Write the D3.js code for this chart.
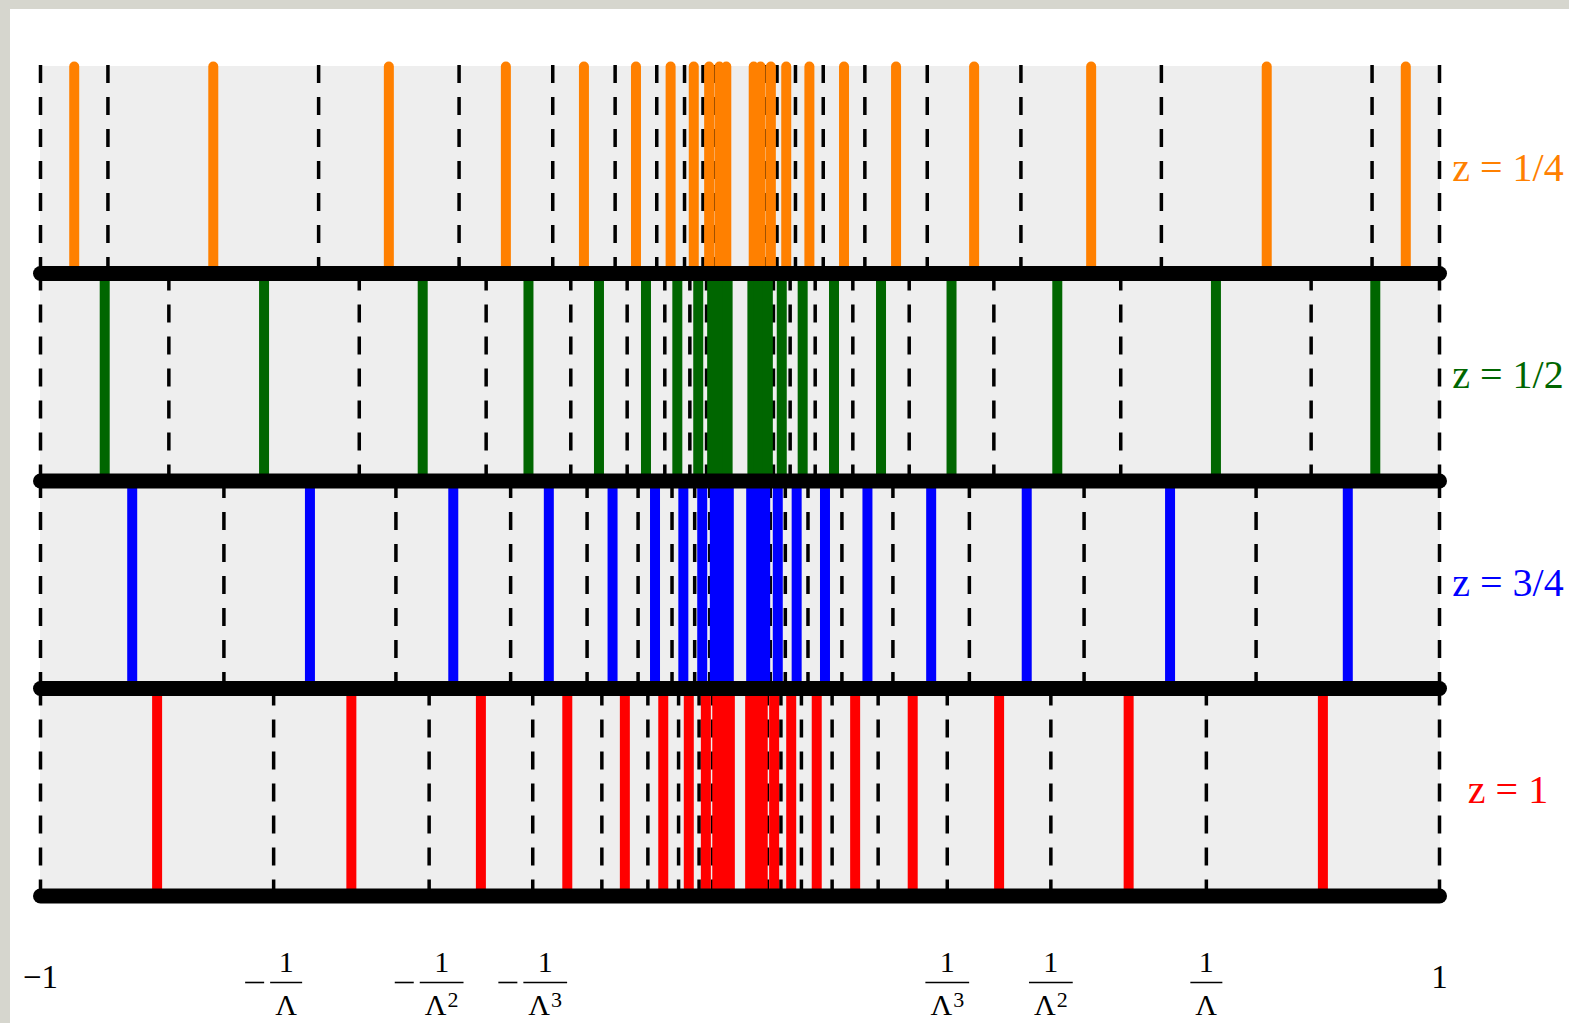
<!DOCTYPE html>
<html>
<head>
<meta charset="utf-8">
<script src="https://cdn.jsdelivr.net/npm/d3@7"></script>
<style>
  html, body { margin: 0; padding: 0; background: #ffffff; }
  svg { display: block; }
</style>
</head>
<body>
<svg id="chart" width="1569" height="1023"></svg>
<script>
// ---------- data ----------
const panelLabels = ["z = 1/4", "z = 1/2", "z = 3/4", "z = 1"];
const panelColors = ["#ff8000", "#006600", "#0000ff", "#ff0000"];

// dashed reference lines, one list per panel
const dashQuarter = [-1, -0.9036, -0.6024, -0.4016, -0.2677, -0.1785, -0.1190, -0.0793, -0.0529, -0.0353, -0.0235, -0.0157,
                     0.0157, 0.0235, 0.0353, 0.0529, 0.0793, 0.1190, 0.1785, 0.2677, 0.4016, 0.6024, 0.9036, 1];
const dashHalf = [-1, -0.8165, -0.5443, -0.3629, -0.2419, -0.1613, -0.1075, -0.0717, -0.0478, -0.0319, -0.0212, -0.0142,
                  0.0142, 0.0212, 0.0319, 0.0478, 0.0717, 0.1075, 0.1613, 0.2419, 0.3629, 0.5443, 0.8165, 1];
const dashThreeQuarter = [-1, -0.7378, -0.4919, -0.3279, -0.2186, -0.1457, -0.0972, -0.0648, -0.0432, -0.0288, -0.0192, -0.0128,
                          0.0128, 0.0192, 0.0288, 0.0432, 0.0648, 0.0972, 0.1457, 0.2186, 0.3279, 0.4919, 0.7378, 1];
const dashOne = [-1, -0.6667, -0.4444, -0.2963, -0.1975, -0.1317, -0.0878, -0.0585, -0.0390, -0.0260, -0.0173, -0.0116,
                 0.0116, 0.0173, 0.0260, 0.0390, 0.0585, 0.0878, 0.1317, 0.1975, 0.2963, 0.4444, 0.6667, 1];

// coloured lines, one list per panel
const linesQuarter = [-0.9518, -0.7530, -0.5020, -0.3347, -0.2231, -0.1487, -0.0992, -0.0661, -0.0441, -0.0294, -0.0196,
                      0.0196, 0.0294, 0.0441, 0.0661, 0.0992, 0.1487, 0.2231, 0.3347, 0.5020, 0.7530, 0.9518];
const linesHalf = [-0.9082, -0.6804, -0.4536, -0.3024, -0.2016, -0.1344, -0.0896, -0.0597, -0.0398, -0.0266, -0.0177,
                   0.0177, 0.0266, 0.0398, 0.0597, 0.0896, 0.1344, 0.2016, 0.3024, 0.4536, 0.6804, 0.9082];
const linesThreeQuarter = [-0.8689, -0.6148, -0.4099, -0.2733, -0.1822, -0.1215, -0.0810, -0.0540, -0.0360, -0.0240, -0.0160,
                           0.0160, 0.0240, 0.0360, 0.0540, 0.0810, 0.1215, 0.1822, 0.2733, 0.4099, 0.6148, 0.8689];
const linesOne = [-0.8333, -0.5556, -0.3704, -0.2469, -0.1646, -0.1097, -0.0732, -0.0488, -0.0325, -0.0217, -0.0145,
                  0.0145, 0.0217, 0.0325, 0.0488, 0.0732, 0.1097, 0.1646, 0.2469, 0.3704, 0.5556, 0.8333];

// bottom tick labels
const tickValues = [-1, -0.6667, -0.4444, -0.2963, 0.2963, 0.4444, 0.6667, 1];
const tickNeg    = [true, true, true, true, false, false, false, false];
const tickPower  = [0, 1, 2, 3, 3, 2, 1, 0];   // 0 = plain number, n = 1/Λ^n

// ---------- layout ----------
const svg = d3.select("#chart");
const W = 1569, H = 1023;

// page frame
svg.append("rect").attr("x", 0).attr("y", 0).attr("width", W).attr("height", H).attr("fill", "#d6d6ce");
svg.append("rect").attr("x", 10).attr("y", 9).attr("width", W - 10).attr("height", H - 9).attr("fill", "#ffffff");

const x = d3.scaleLinear().domain([-1, 1]).range([40.5, 1439.5]);
const y = d3.scaleBand().domain(panelLabels).range([66, 896]).paddingInner(0).paddingOuter(0);

const panels = panelLabels.map((label, i) => ({
  label,
  color: panelColors[i],
  dashes: [dashQuarter, dashHalf, dashThreeQuarter, dashOne][i],
  lines: [linesQuarter, linesHalf, linesThreeQuarter, linesOne][i]
}));

const gPanels = svg.append("g");
panels.forEach(p => {
  const top = y(p.label), bottom = top + y.bandwidth();
  const g = gPanels.append("g");
  g.append("rect")
    .attr("x", x(-1) - 0.5).attr("y", top)
    .attr("width", x(1) - x(-1) + 1).attr("height", y.bandwidth())
    .attr("fill", "#eeeeee");
  g.selectAll("line.dash").data(p.dashes).join("line")
    .attr("class", "dash")
    .attr("x1", d => x(d)).attr("x2", d => x(d))
    .attr("y1", top - 1).attr("y2", bottom)
    .attr("stroke", "#000").attr("stroke-width", 3.5)
    .attr("stroke-dasharray", "18,14");
  g.selectAll("line.mark").data(p.lines).join("line")
    .attr("class", "mark")
    .attr("x1", d => x(d)).attr("x2", d => x(d))
    .attr("y1", top + 0.5).attr("y2", bottom)
    .attr("stroke", p.color).attr("stroke-width", 10).attr("stroke-linecap", "round");
  g.append("text")
    .attr("x", 1508).attr("y", top + y.bandwidth() / 2 + 11)
    .attr("text-anchor", "middle")
    .attr("font-family", "'Liberation Serif', 'DejaVu Serif', serif")
    .attr("font-size", 40)
    .attr("fill", p.color)
    .text(p.label);
});

// thick black baselines
svg.append("g").selectAll("line").data(panelLabels).join("line")
  .attr("x1", x(-1)).attr("x2", x(1))
  .attr("y1", d => y(d) + y.bandwidth()).attr("y2", d => y(d) + y.bandwidth())
  .attr("stroke", "#000").attr("stroke-width", 15).attr("stroke-linecap", "round");

// bottom tick labels
const fontFam = "'Liberation Serif', 'DejaVu Serif', serif";
const gTicks = svg.append("g");
tickValues.forEach((v, i) => {
  const tx = x(v);
  if (tickPower[i] === 0) {
    gTicks.append("text")
      .attr("x", tx).attr("y", 988)
      .attr("text-anchor", "middle")
      .attr("font-family", fontFam).attr("font-size", 33)
      .attr("fill", "#000")
      .text(tickNeg[i] ? "\u22121" : "1");
    return;
  }
  const g = gTicks.append("g");
  const den = g.append("text")
    .attr("y", 1015)
    .attr("font-family", fontFam).attr("font-size", 30).attr("fill", "#000");
  den.append("tspan").text("\u039B");
  if (tickPower[i] > 1) {
    den.append("tspan").attr("font-size", 22).attr("dy", -8).attr("dx", 1).text(String(tickPower[i]));
  }
  const dw = den.node().getBBox().width;
  const bw = dw + 10;
  const minusW = 19, gap = 6;
  const total = (tickNeg[i] ? minusW + gap : 0) + bw;
  const left = tx - total / 2;
  const barLeft = left + (tickNeg[i] ? minusW + gap : 0);
  den.attr("x", barLeft + 5);
  g.append("line")
    .attr("x1", barLeft).attr("x2", barLeft + bw)
    .attr("y1", 982.5).attr("y2", 982.5)
    .attr("stroke", "#000").attr("stroke-width", 1.4);
  g.append("text")
    .attr("x", barLeft + bw / 2).attr("y", 972)
    .attr("text-anchor", "middle")
    .attr("font-family", fontFam).attr("font-size", 30).attr("fill", "#000")
    .text("1");
  if (tickNeg[i]) {
    g.append("line")
      .attr("x1", left).attr("x2", left + minusW)
      .attr("y1", 982.5).attr("y2", 982.5)
      .attr("stroke", "#000").attr("stroke-width", 1.6);
  }
});
</script>
</body>
</html>
